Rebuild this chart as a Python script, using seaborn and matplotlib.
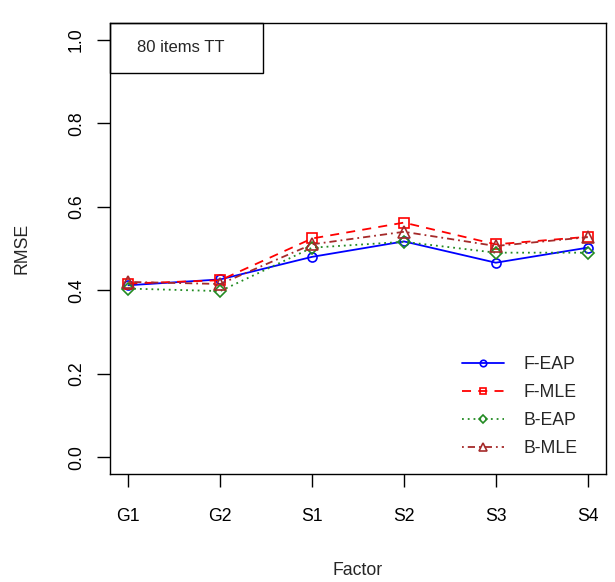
import matplotlib
matplotlib.use("Agg")
import matplotlib.pyplot as plt
from matplotlib.patches import Rectangle
import seaborn as sns
import pandas as pd

factors = ["G1", "G2", "S1", "S2", "S3", "S4"]
f_eap = [0.412, 0.426, 0.480, 0.517, 0.466, 0.502]
f_mle = [0.416, 0.424, 0.524, 0.562, 0.510, 0.528]
b_eap = [0.404, 0.398, 0.502, 0.516, 0.490, 0.490]
b_mle = [0.420, 0.415, 0.510, 0.540, 0.506, 0.527]
series_names = ["F-EAP", "F-MLE", "B-EAP", "B-MLE"]
y_ticks = [0.0, 0.2, 0.4, 0.6, 0.8, 1.0]
panel_label = "80 items TT"

sns.set_style("white")
plt.rcParams["font.family"] = ["Liberation Sans", "DejaVu Sans"]

fig = plt.figure(figsize=(6.15, 5.82), dpi=100)
W, H = 615, 582
ax = fig.add_axes([110 / W, (H - 474) / H, 496 / W, 451 / H])

styles = [
    dict(color="#0000FF", marker="o", ms=6.5, ls="-"),
    dict(color="#FF0000", marker="s", ms=6.5, ls=(0, (5, 4))),
    dict(color="#228B22", marker="D", ms=6.0, ls=(0, (1, 2.2))),
    dict(color="#A52A2A", marker="^", ms=8.5, ls=(0, (1, 2.2, 4, 2.2))),
]
x_pos = list(range(len(factors)))
for name, vals, st in zip(series_names, [f_eap, f_mle, b_eap, b_mle], styles):
    df = pd.DataFrame({"x": x_pos, "y": vals})
    sns.lineplot(data=df, x="x", y="y", ax=ax, color=st["color"], linestyle=st["ls"],
                 linewidth=1.3, marker=st["marker"], markersize=st["ms"],
                 markerfacecolor="none", markeredgecolor=st["color"],
                 markeredgewidth=1.2, label=name, errorbar=None)

ax.set_xlim(-0.2, 5.2)
ax.set_ylim(-0.04, 1.04)
ax.set_xticks(x_pos)
ax.set_xticklabels(factors)
ax.set_yticks(y_ticks)
ax.set_yticklabels([f"{v:.1f}" for v in y_ticks], rotation=90, va="center")
ax.tick_params(axis="both", direction="out", length=9.4, width=1, color="black",
               labelsize=12.7, labelcolor="black", bottom=True, left=True)
ax.tick_params(axis="x", pad=15.4)
ax.tick_params(axis="y", pad=8.6)
for s in ax.spines.values():
    s.set_visible(True)
    s.set_color("black")
    s.set_linewidth(1)

ax.set_xlabel("Factor", fontsize=12.7, labelpad=26)
ax.set_ylabel("RMSE", fontsize=12.7, labelpad=27)

ax.add_patch(Rectangle((0, 1 - 50 / 451), 153 / 496, 50 / 451, transform=ax.transAxes,
                       fill=False, edgecolor="black", linewidth=1, clip_on=False))
ax.text(71 / 496, 1 - 25 / 451, panel_label, transform=ax.transAxes, ha="center",
        va="center", fontsize=12)

leg = ax.legend(loc="lower left", bbox_to_anchor=(352 / 496, 17 / 451), frameon=False,
                fontsize=12.7, handlelength=2.4, handletextpad=1.1, labelspacing=0.62,
                borderpad=0, borderaxespad=0, markerscale=0.72)

fig.savefig("out.png", dpi=100, facecolor="white")
